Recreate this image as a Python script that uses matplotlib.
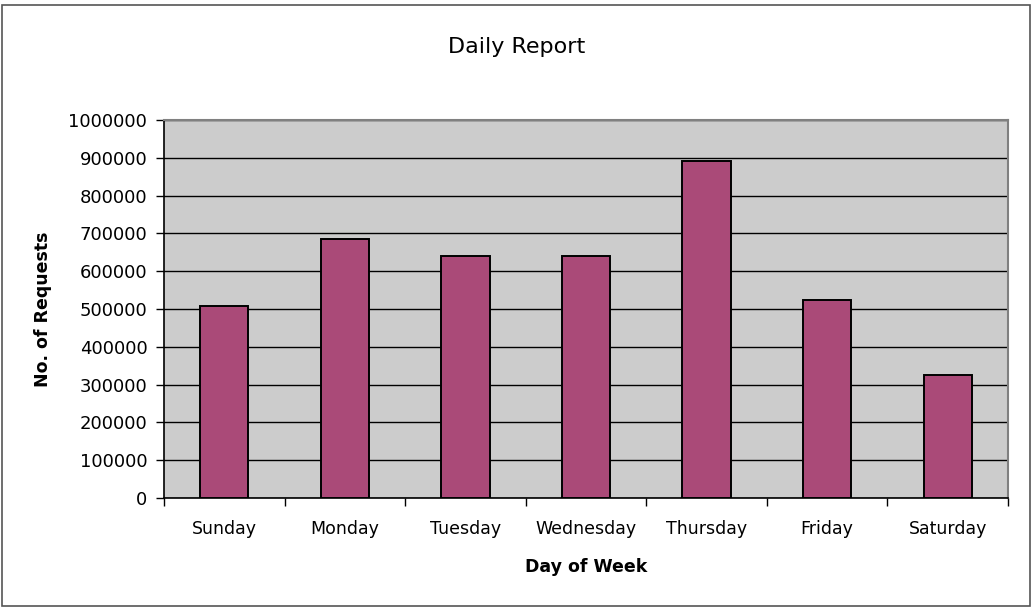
import matplotlib
matplotlib.use("Agg")
import matplotlib.pyplot as plt
import numpy as np

# data
days = ['Sunday', 'Monday', 'Tuesday', 'Wednesday', 'Thursday', 'Friday', 'Saturday']
requests = [509000, 686000, 639000, 641000, 891500, 524000, 325000]
y_ticks = [0, 100000, 200000, 300000, 400000, 500000, 600000, 700000, 800000, 900000, 1000000]

W, H = 1034, 607
fig = plt.figure(figsize=(W / 100, H / 100), dpi=100, facecolor='white')

# plot area in pixel coords of the reference
left, right, top, bottom = 164, 1008, 120, 498
ax = fig.add_axes([left / W, (H - bottom) / H, (right - left) / W, (bottom - top) / H])
ax.set_facecolor('#CCCCCC')

x = np.arange(len(days))
ax.bar(x, requests, width=0.4, color='#AA4A78', edgecolor='black', linewidth=1.4, zorder=3)

ax.set_xlim(-0.5, len(days) - 0.5)
ax.set_ylim(0, 1000000)
ax.set_yticks(y_ticks)
ax.set_yticklabels([str(v) for v in y_ticks])
ax.yaxis.grid(True, color='black', linewidth=1.0, zorder=1)
ax.set_axisbelow(True)

# category ticks sit between the bars, labels centred under them
ax.set_xticks(np.arange(-0.5, len(days), 1.0))
ax.set_xticklabels([])
ax.set_xticks(x, minor=True)
ax.set_xticklabels(days, minor=True)
ax.tick_params(axis='x', which='minor', length=0, pad=16, labelsize=12.5)
ax.tick_params(axis='x', which='major', direction='out', length=6, width=1, color='black')
ax.tick_params(axis='y', direction='out', length=6, width=1, pad=6, labelsize=13)

for side in ['left', 'bottom']:
    ax.spines[side].set_color('black')
    ax.spines[side].set_linewidth(1.2)
for side in ['top', 'right']:
    ax.spines[side].set_color('#808080')
    ax.spines[side].set_linewidth(1.5)

ax.set_xlabel('Day of Week', fontsize=12.5, fontweight='bold', labelpad=14)
ax.set_ylabel('No. of Requests', fontsize=12.5, fontweight='bold', labelpad=12)
fig.text(0.5, 1 - 47 / H, 'Daily Report', fontsize=16, ha='center', va='center')

# chart area frame
frame = plt.Rectangle((1.5 / W, 1.5 / H), (W - 6) / W, (H - 6) / H, transform=fig.transFigure,
                      fill=False, edgecolor='#555555', linewidth=1.2)
fig.patches.append(frame)

fig.savefig('out.png', dpi=100, facecolor='white')
